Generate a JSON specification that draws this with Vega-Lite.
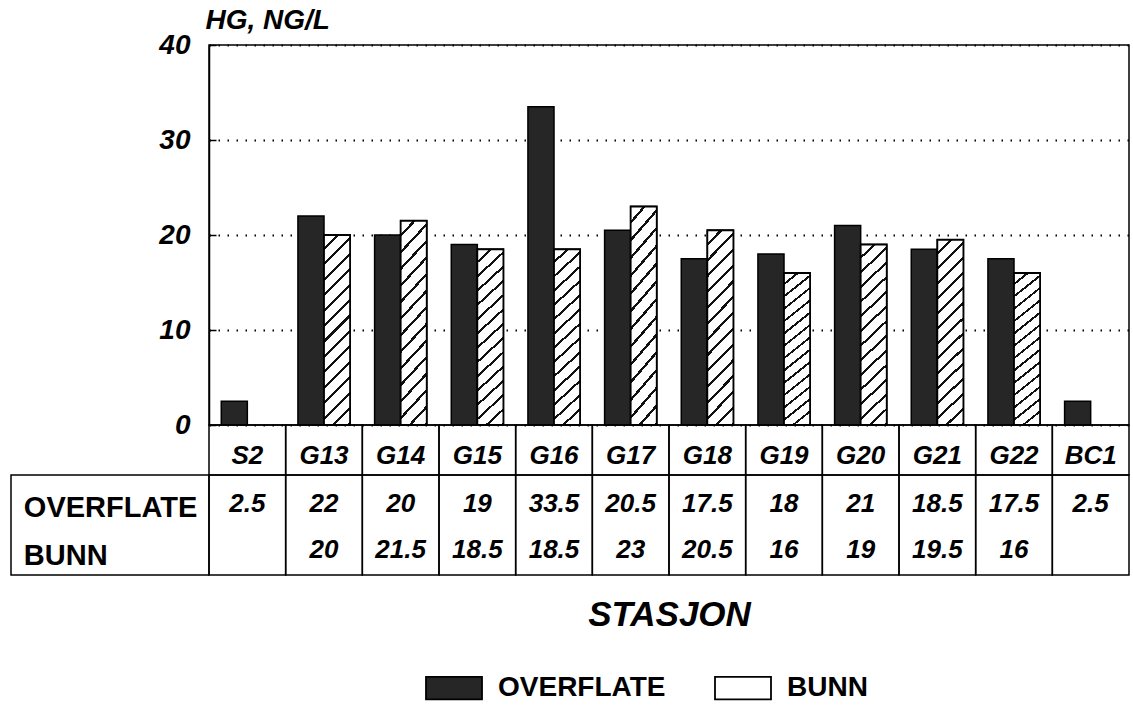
{
  "$schema": "https://vega.github.io/schema/vega-lite/v6.json",
  "padding": {"left": 10, "top": 5, "right": 0, "bottom": 0},
  "columns": 2,
  "spacing": 0,
  "bounds": "flush",
  "config": {
    "view": {"stroke": null},
    "font": "Liberation Sans"
  },
  "data": {
    "values": [
      {"station": "S2", "type": "OVERFLATE", "value": 2.5},
      {"station": "G13", "type": "OVERFLATE", "value": 22},
      {"station": "G13", "type": "BUNN", "value": 20},
      {"station": "G14", "type": "OVERFLATE", "value": 20},
      {"station": "G14", "type": "BUNN", "value": 21.5},
      {"station": "G15", "type": "OVERFLATE", "value": 19},
      {"station": "G15", "type": "BUNN", "value": 18.5},
      {"station": "G16", "type": "OVERFLATE", "value": 33.5},
      {"station": "G16", "type": "BUNN", "value": 18.5},
      {"station": "G17", "type": "OVERFLATE", "value": 20.5},
      {"station": "G17", "type": "BUNN", "value": 23},
      {"station": "G18", "type": "OVERFLATE", "value": 17.5},
      {"station": "G18", "type": "BUNN", "value": 20.5},
      {"station": "G19", "type": "OVERFLATE", "value": 18},
      {"station": "G19", "type": "BUNN", "value": 16},
      {"station": "G20", "type": "OVERFLATE", "value": 21},
      {"station": "G20", "type": "BUNN", "value": 19},
      {"station": "G21", "type": "OVERFLATE", "value": 18.5},
      {"station": "G21", "type": "BUNN", "value": 19.5},
      {"station": "G22", "type": "OVERFLATE", "value": 17.5},
      {"station": "G22", "type": "BUNN", "value": 16},
      {"station": "BC1", "type": "OVERFLATE", "value": 2.5}
    ]
  },
  "concat": [
    {
      "width": 198,
      "height": 380,
      "data": {"values": []},
      "mark": "point"
    },
    {
      "width": 920,
      "height": 380,
      "view": {"stroke": "black", "strokeWidth": 1.5},
      "encoding": {
        "x": {"field": "station", "type": "nominal", "sort": null,
              "scale": {"paddingInner": 0.32, "paddingOuter": 0.16}, "axis": null},
        "xOffset": {"field": "type", "type": "nominal", "scale": {"domain": ["OVERFLATE", "BUNN"], "paddingInner": 0, "paddingOuter": 0}},
        "y": {"field": "value", "type": "quantitative",
              "scale": {"domain": [0, 40]},
              "axis": {
                "values": [0, 10, 20, 30, 40],
                "title": "HG, NG/L", "titleAngle": 0, "titleAlign": "left", "titleBaseline": "alphabetic",
                "titleX": -4, "titleY": -17, "titleFontSize": 28, "titleFontStyle": "italic", "titleFontWeight": "bold", "titleColor": "black",
                "labelFontSize": 28, "labelFontStyle": "italic", "labelFontWeight": "bold", "labelColor": "black", "labelPadding": 26,
                "tickSize": -7, "tickColor": "black", "tickWidth": 1.5,
                "domainColor": "black", "domainWidth": 1.5,
                "grid": true, "gridDash": [1.5, 7.5], "gridColor": "black", "gridWidth": 1.8, "gridOpacity": 1
              }}
      },
      "layer": [
        {
          "mark": {"type": "bar", "stroke": "black", "strokeWidth": 1.5},
          "encoding": {
            "color": {"field": "type", "type": "nominal",
              "scale": {"domain": ["OVERFLATE", "BUNN"], "range": ["#262626", "white"]},
              "legend": {
                "orient": "none", "direction": "horizontal", "legendX": 414, "legendY": 614,
                "title": null,
                "symbolType": "M-1,-0.4H1V0.4H-1Z", "symbolSize": 3136,
                "symbolStrokeColor": "black", "symbolStrokeWidth": 1.8,
                "labelFont": "Liberation Sans", "labelFontSize": 28, "labelFontWeight": "bold", "labelColor": "black",
                "labelOffset": 15, "columnPadding": 45, "labelLimit": 400,
                "encode": {
                  "symbols": {
                    "update": {
                      "stroke": {"value": "black"},
                      "strokeWidth": {"value": 1.8},
                      "shape": {
                        "condition": {"test": "datum.value === 'BUNN'",
                          "value": "M-1,-0.4H1V0.4H-1Z M-1,-0.1L-0.7,-0.4 M-1,0.36L-0.24,-0.4 M-0.58,0.4L0.22,-0.4 M-0.12,0.4L0.68,-0.4 M0.34,0.4L1,-0.26 M0.8,0.4L1,0.2"},
                        "value": "M-1,-0.4H1V0.4H-1Z"
                      }
                    }
                  }
                }
              }}
          }
        },
        {
          "transform": [{"filter": "datum.type === 'BUNN'"}],
          "mark": {"type": "bar", "stroke": "black", "strokeWidth": 1.8,
            "fill": {
              "gradient": "linear", "x1": 0, "y1": 0, "x2": 0.153, "y2": 1.116,
              "stops": [
                {"offset": 0, "color": "white"}, {"offset": 0.057, "color": "white"}, {"offset": 0.057, "color": "#111"}, {"offset": 0.0714, "color": "#111"},
                {"offset": 0.0714, "color": "white"}, {"offset": 0.1286, "color": "white"}, {"offset": 0.1286, "color": "#111"}, {"offset": 0.1429, "color": "#111"},
                {"offset": 0.1429, "color": "white"}, {"offset": 0.2, "color": "white"}, {"offset": 0.2, "color": "#111"}, {"offset": 0.2143, "color": "#111"},
                {"offset": 0.2143, "color": "white"}, {"offset": 0.2714, "color": "white"}, {"offset": 0.2714, "color": "#111"}, {"offset": 0.2857, "color": "#111"},
                {"offset": 0.2857, "color": "white"}, {"offset": 0.3429, "color": "white"}, {"offset": 0.3429, "color": "#111"}, {"offset": 0.3571, "color": "#111"},
                {"offset": 0.3571, "color": "white"}, {"offset": 0.4143, "color": "white"}, {"offset": 0.4143, "color": "#111"}, {"offset": 0.4286, "color": "#111"},
                {"offset": 0.4286, "color": "white"}, {"offset": 0.4857, "color": "white"}, {"offset": 0.4857, "color": "#111"}, {"offset": 0.5, "color": "#111"},
                {"offset": 0.5, "color": "white"}, {"offset": 0.5571, "color": "white"}, {"offset": 0.5571, "color": "#111"}, {"offset": 0.5714, "color": "#111"},
                {"offset": 0.5714, "color": "white"}, {"offset": 0.6286, "color": "white"}, {"offset": 0.6286, "color": "#111"}, {"offset": 0.6429, "color": "#111"},
                {"offset": 0.6429, "color": "white"}, {"offset": 0.7, "color": "white"}, {"offset": 0.7, "color": "#111"}, {"offset": 0.7143, "color": "#111"},
                {"offset": 0.7143, "color": "white"}, {"offset": 0.7714, "color": "white"}, {"offset": 0.7714, "color": "#111"}, {"offset": 0.7857, "color": "#111"},
                {"offset": 0.7857, "color": "white"}, {"offset": 0.8429, "color": "white"}, {"offset": 0.8429, "color": "#111"}, {"offset": 0.8571, "color": "#111"},
                {"offset": 0.8571, "color": "white"}, {"offset": 0.9143, "color": "white"}, {"offset": 0.9143, "color": "#111"}, {"offset": 0.9286, "color": "#111"},
                {"offset": 0.9286, "color": "white"}, {"offset": 0.9857, "color": "white"}, {"offset": 0.9857, "color": "#111"}, {"offset": 1, "color": "#111"}
              ]
            }
          }
        }
      ]
    },
    {
      "width": 198,
      "height": 150,
      "data": {"values": [{}]},
      "encoding": {
        "x": {"datum": 0, "type": "quantitative", "scale": {"domain": [0, 1]}, "axis": null}
      },
      "layer": [
        {
          "mark": {"type": "rect", "fillOpacity": 0, "stroke": "black", "strokeWidth": 1.5},
          "encoding": {
            "x": {"datum": 0, "type": "quantitative", "scale": {"domain": [0, 1]}, "axis": null},
            "x2": {"datum": 1},
            "y": {"datum": 1, "type": "quantitative", "scale": {"domain": [0, 3], "reverse": true}, "axis": null},
            "y2": {"datum": 3}
          }
        },
        {
          "mark": {"type": "text", "text": "OVERFLATE", "align": "left", "baseline": "middle", "font": "Liberation Sans", "fontSize": 29, "fontWeight": "bold", "color": "black"},
          "encoding": {
            "x": {"datum": 0.065, "type": "quantitative"},
            "y": {"datum": 1.66, "type": "quantitative"}
          }
        },
        {
          "mark": {"type": "text", "text": "BUNN", "align": "left", "baseline": "middle", "font": "Liberation Sans", "fontSize": 29, "fontWeight": "bold", "color": "black"},
          "encoding": {
            "x": {"datum": 0.065, "type": "quantitative"},
            "y": {"datum": 2.62, "type": "quantitative"}
          }
        }
      ]
    },
    {
      "width": 920,
      "height": 150,
      "encoding": {
        "x": {"field": "station", "type": "nominal", "sort": null,
              "scale": {"paddingInner": 0, "paddingOuter": 0},
              "axis": {"labels": false, "ticks": false, "domain": false, "title": "STASJON",
                       "titleFont": "Liberation Sans", "titleFontSize": 35, "titleFontStyle": "italic", "titleFontWeight": "bold", "titleColor": "black", "titlePadding": 22}}
      },
      "layer": [
        {
          "transform": [{"filter": "datum.type === 'OVERFLATE'"}],
          "mark": {"type": "rect", "fillOpacity": 0, "stroke": "black", "strokeWidth": 1.5},
          "encoding": {
            "y": {"datum": 0, "type": "quantitative", "scale": {"domain": [0, 3], "reverse": true}, "axis": null},
            "y2": {"datum": 1}
          }
        },
        {
          "transform": [{"filter": "datum.type === 'OVERFLATE'"}],
          "mark": {"type": "rect", "fillOpacity": 0, "stroke": "black", "strokeWidth": 1.5},
          "encoding": {
            "y": {"datum": 1, "type": "quantitative"},
            "y2": {"datum": 3}
          }
        },
        {
          "transform": [{"filter": "datum.type === 'OVERFLATE'"}],
          "mark": {"type": "text", "baseline": "middle", "font": "Liberation Sans", "fontSize": 26, "fontWeight": "bold", "fontStyle": "italic", "color": "black"},
          "encoding": {
            "y": {"datum": 0.62, "type": "quantitative"},
            "text": {"field": "station", "type": "nominal"}
          }
        },
        {
          "transform": [{"filter": "datum.type === 'OVERFLATE'"}],
          "mark": {"type": "text", "baseline": "middle", "font": "Liberation Sans", "fontSize": 26, "fontWeight": "bold", "fontStyle": "italic", "color": "black"},
          "encoding": {
            "y": {"datum": 1.58, "type": "quantitative"},
            "text": {"field": "value", "type": "nominal"}
          }
        },
        {
          "transform": [{"filter": "datum.type === 'BUNN'"}],
          "mark": {"type": "text", "baseline": "middle", "font": "Liberation Sans", "fontSize": 26, "fontWeight": "bold", "fontStyle": "italic", "color": "black"},
          "encoding": {
            "y": {"datum": 2.5, "type": "quantitative"},
            "text": {"field": "value", "type": "nominal"}
          }
        }
      ]
    }
  ]
}
